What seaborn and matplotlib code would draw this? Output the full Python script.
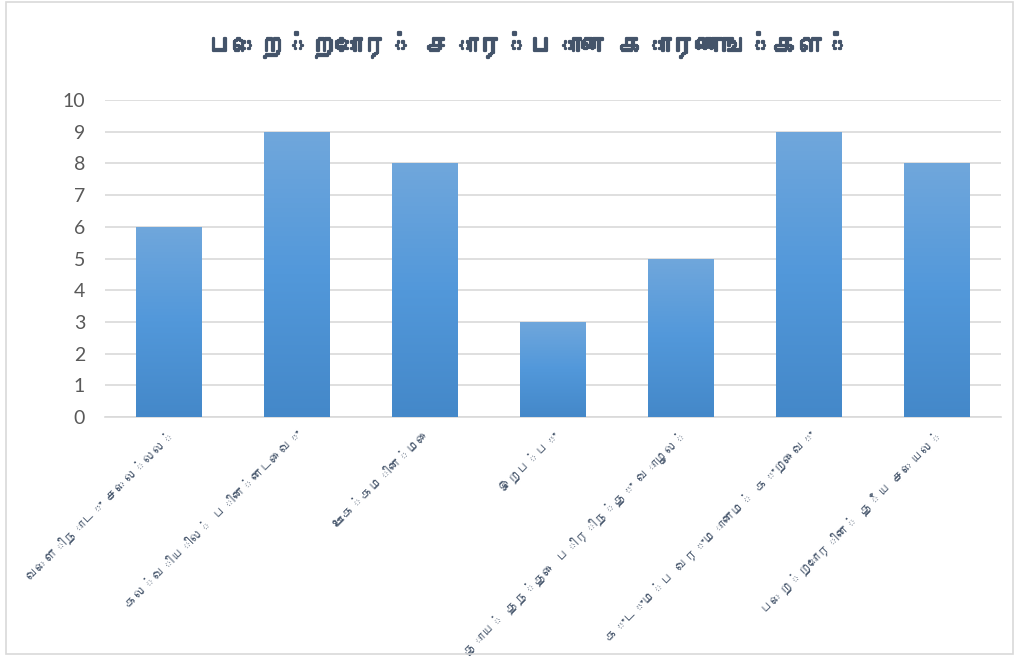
import numpy as np
import pandas as pd
import matplotlib
matplotlib.use("Agg")
import matplotlib.pyplot as plt
import matplotlib.patheffects as pe
import seaborn as sns
from matplotlib import font_manager
from matplotlib.ft2font import FT2Font
from matplotlib.colors import LinearSegmentedColormap
from matplotlib.patches import Rectangle

# ---- data ----
categories = ["வெளிநாடு செல்லல்", "கல்வியில் பின்னடைவு", "ஊக்கமின்மை", "இறப்பு",
              "தாய் தந்தை பிரிந்து வாழல்", "குடும்ப வருமானம் குறைவு", "பெற்றோரின் தீய செயல்"]
values = [6, 9, 8, 3, 5, 9, 8]
yticks = list(range(0, 11))
title = "பெற்றோர் சார்பான காரணங்கள்"

# ---- find a font with Tamil glyphs ----
tamil_family = None
for f in font_manager.findSystemFonts():
    try:
        ft = FT2Font(f)
        if ft.get_char_index(0x0BA4) and ft.get_char_index(0x0BB1):
            tamil_family = font_manager.FontProperties(fname=f).get_name()
            font_manager.fontManager.addfont(f)
            break
    except Exception:
        continue

sns.set_theme(style="white")
fams = ([tamil_family] if tamil_family else []) + ["Lato", "DejaVu Sans"]
plt.rcParams["font.family"] = fams

df = pd.DataFrame({"cat": categories, "val": values})

fig = plt.figure(figsize=(10.19, 6.56), dpi=100)
ax = fig.add_axes([104.5 / 1019, 1 - 417 / 656, 896 / 1019, 317 / 656])

sns.barplot(data=df, x="cat", y="val", color="#5B9BD5", width=0.51, ax=ax, zorder=3)

cmap = LinearSegmentedColormap.from_list("g", ["#4488C9", "#5298DA", "#70A7DC"])
grad = np.linspace(0, 1, 256).reshape(-1, 1)
for p in ax.patches:
    x0, y0 = p.get_x(), p.get_y()
    w, h = p.get_width(), p.get_height()
    p.set_facecolor("none")
    p.set_edgecolor("none")
    im = ax.imshow(grad, cmap=cmap, origin="lower", aspect="auto",
                   extent=[x0, x0 + w, y0, y0 + h], zorder=3)
    im.set_clip_path(p)

ax.set_xlim(-0.5, len(categories) - 0.5)
ax.set_ylim(0, 10)
ax.set_yticks(yticks)
ax.set_yticklabels([str(t) for t in yticks], fontsize=14, color="#595959",
                   family=["Lato", "DejaVu Sans"])
ax.yaxis.grid(True, color="#D9D9D9", linewidth=1.2, zorder=0)
ax.set_axisbelow(True)
for s in ["top", "right", "left"]:
    ax.spines[s].set_visible(False)
ax.spines["bottom"].set_color("#D9D9D9")
ax.spines["bottom"].set_linewidth(1.2)
ax.tick_params(axis="y", length=0, pad=14)
ax.tick_params(axis="x", length=0, pad=8)
ax.set_xlabel("")
ax.set_ylabel("")
ax.set_xticks(range(len(categories)))
ax.set_xticklabels(categories, rotation=45, ha="right", rotation_mode="anchor",
                   fontsize=9.5, color="#44546A")

fig.text(0.52, 1 - 45 / 656, title, ha="center", va="center", fontsize=18.5,
         fontweight="bold", color="#44546A",
         path_effects=[pe.withStroke(linewidth=1.6, foreground="#44546A")])

fig.patches.append(Rectangle((6 / 1019, 2 / 656), 1 - 12 / 1019, 1 - 4 / 656,
                             transform=fig.transFigure, fill=False,
                             edgecolor="#D9D9D9", linewidth=1.2))

fig.savefig("out.png", dpi=100, facecolor="white")
